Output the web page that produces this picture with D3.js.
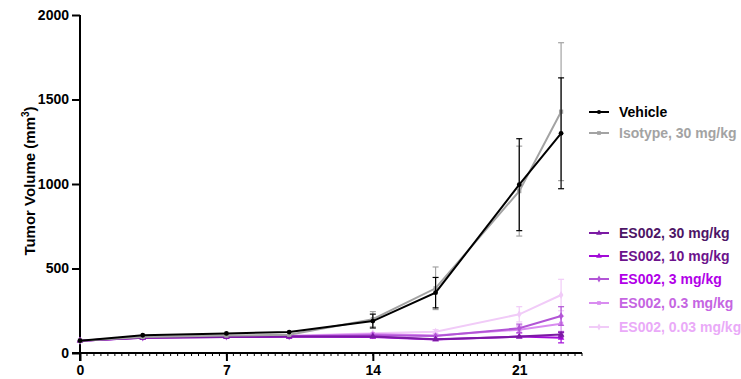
<!DOCTYPE html>
<html><head><meta charset="utf-8">
<script src="https://cdn.jsdelivr.net/npm/d3@7"></script>
<style>body{margin:0;background:#fff;} svg{display:block;font-family:"Liberation Sans",Arial,Helvetica,sans-serif;font-weight:bold;}</style>
</head><body><svg id="c" width="741" height="379"></svg>
<script>
const days = [0, 3, 7, 10, 14, 17, 21, 23];
const xTicks = [0, 7, 14, 21];
const yTicks = [0, 500, 1000, 1500, 2000];
const seriesNames = ["Vehicle", "Isotype, 30 mg/kg", "ES002, 30 mg/kg", "ES002, 10 mg/kg", "ES002, 3 mg/kg", "ES002, 0.3 mg/kg", "ES002, 0.03 mg/kg"];
const vehicle     = [73, 105, 116, 124, 189, 357, 996, 1300];
const vehicleErr  = [3, 6, 6, 7, 41, 90, 272, 328];
const isotype     = [73, 95, 103, 108, 200, 383, 958, 1428];
const isotypeErr  = [3, 5, 6, 6, 45, 126, 266, 408];
const es30        = [73, 90, 95, 97, 98, 81, 97, 110];
const es30Err     = [3, 4, 5, 5, 8, 8, 10, 14];
const es10        = [73, 90, 94, 96, 95, 80, 97, 90];
const es10Err     = [3, 4, 5, 5, 8, 8, 10, 30];
const es3         = [73, 92, 97, 99, 105, 100, 146, 219];
const es3Err      = [3, 4, 5, 5, 8, 10, 25, 55];
const es03        = [73, 92, 98, 100, 112, 103, 138, 173];
const es03Err     = [3, 4, 5, 5, 8, 10, 22, 45];
const es003       = [73, 93, 99, 102, 117, 126, 229, 343];
const es003Err    = [3, 4, 5, 5, 9, 12, 45, 93];

const lineColors = ["#000000", "#a3a3a3", "#7b1aa3", "#a20ad8", "#b255d6", "#d98cf0", "#f1cbf8"];
const textColors = ["#000000", "#a3a3a3", "#4d1566", "#6c138c", "#b100e8", "#c565e2", "#eaaaf8"];
const markers = ["circle", "square", "triangle", "triangle", "diamond", "square", "diamond"];
const values = [vehicle, isotype, es30, es10, es3, es03, es003];
const errs = [vehicleErr, isotypeErr, es30Err, es10Err, es3Err, es03Err, es003Err];

const svg = d3.select("#c");
const x = d3.scaleLinear().domain([0, 24]).range([80, 582]);
const y = d3.scaleLinear().domain([0, 2000]).range([353, 15]);

// axes
const yAxis = svg.append("g").attr("transform", `translate(${x(0)},0)`)
  .call(d3.axisLeft(y).tickValues(yTicks).tickSize(8).tickPadding(3).tickFormat(d3.format("d")));
yAxis.select(".domain").attr("stroke-width", 2).attr("d", `M0,${y(2000)}V${y(0)+8}`);
yAxis.selectAll(".tick line").attr("stroke-width", 2);
yAxis.selectAll("text").attr("font-size", 14).attr("font-weight", "bold").attr("fill", "#000").attr("font-family", "Liberation Sans, Arial, sans-serif");

const minor = d3.range(0, 24.01, 1/3);
svg.append("g").selectAll("line").data(minor).join("line")
  .attr("x1", d => x(d)).attr("x2", d => x(d)).attr("y1", y(0)).attr("y2", y(0) + 3)
  .attr("stroke", "#000").attr("stroke-width", 1);

const xAxis = svg.append("g").attr("transform", `translate(0,${y(0)})`)
  .call(d3.axisBottom(x).tickValues(xTicks).tickSize(8).tickPadding(4));
xAxis.select(".domain").attr("stroke-width", 2).attr("d", `M${x(0)-8},0H${x(24)}`);
xAxis.selectAll(".tick line").attr("stroke-width", 2);
xAxis.selectAll("text").attr("font-size", 14).attr("font-weight", "bold").attr("fill", "#000").attr("font-family", "Liberation Sans, Arial, sans-serif");

const title = svg.append("text").attr("transform", `translate(35,${y(1000)-3}) rotate(-90)`)
  .attr("text-anchor", "middle").attr("font-size", 15).attr("fill", "#000");
title.append("tspan").text("Tumor Volume (mm");
title.append("tspan").attr("dy", -6).attr("font-size", 10).text("3");
title.append("tspan").attr("dy", 6).text(")");

const sym = {circle: d3.symbolCircle, square: d3.symbolSquare, triangle: d3.symbolTriangle, diamond: d3.symbolDiamond};
const line = d3.line().x((d, i) => x(days[i])).y(d => y(d));

const order = [6, 5, 4, 3, 2, 1, 0];
order.forEach(s => {
  const g = svg.append("g");
  const c = lineColors[s];
  days.forEach((d, i) => {
    const e = errs[s][i];
    if (e * 0.169 < 2) return;
    const cx = x(d), y1 = y(values[s][i] + e), y2 = y(values[s][i] - e);
    g.append("line").attr("x1", cx).attr("x2", cx).attr("y1", y1).attr("y2", y2).attr("stroke", c).attr("stroke-width", 1.2);
    g.append("line").attr("x1", cx - 3).attr("x2", cx + 3).attr("y1", y1).attr("y2", y1).attr("stroke", c).attr("stroke-width", 1.2);
    g.append("line").attr("x1", cx - 3).attr("x2", cx + 3).attr("y1", y2).attr("y2", y2).attr("stroke", c).attr("stroke-width", 1.2);
  });
  g.append("path").datum(values[s]).attr("d", line).attr("fill", "none").attr("stroke", c).attr("stroke-width", 2);
  g.selectAll("path.m").data(values[s]).join("path").attr("class", "m")
    .attr("transform", (d, i) => `translate(${x(days[i])},${y(d)})`)
    .attr("d", d3.symbol(sym[markers[s]], 18)).attr("fill", c);
});

// legend
const legY = [112, 133, 233, 256, 279, 303, 327];
seriesNames.forEach((n, s) => {
  const g = svg.append("g").attr("transform", `translate(0,${legY[s]})`);
  g.append("line").attr("x1", 589).attr("x2", 609).attr("y1", 0).attr("y2", 0).attr("stroke", lineColors[s]).attr("stroke-width", 2);
  g.append("path").attr("transform", "translate(599,0)").attr("d", d3.symbol(sym[markers[s]], 14)).attr("fill", lineColors[s]);
  g.append("text").attr("x", 619).attr("y", 5).attr("font-size", 14).attr("fill", textColors[s]).text(n);
});
</script></body></html>
